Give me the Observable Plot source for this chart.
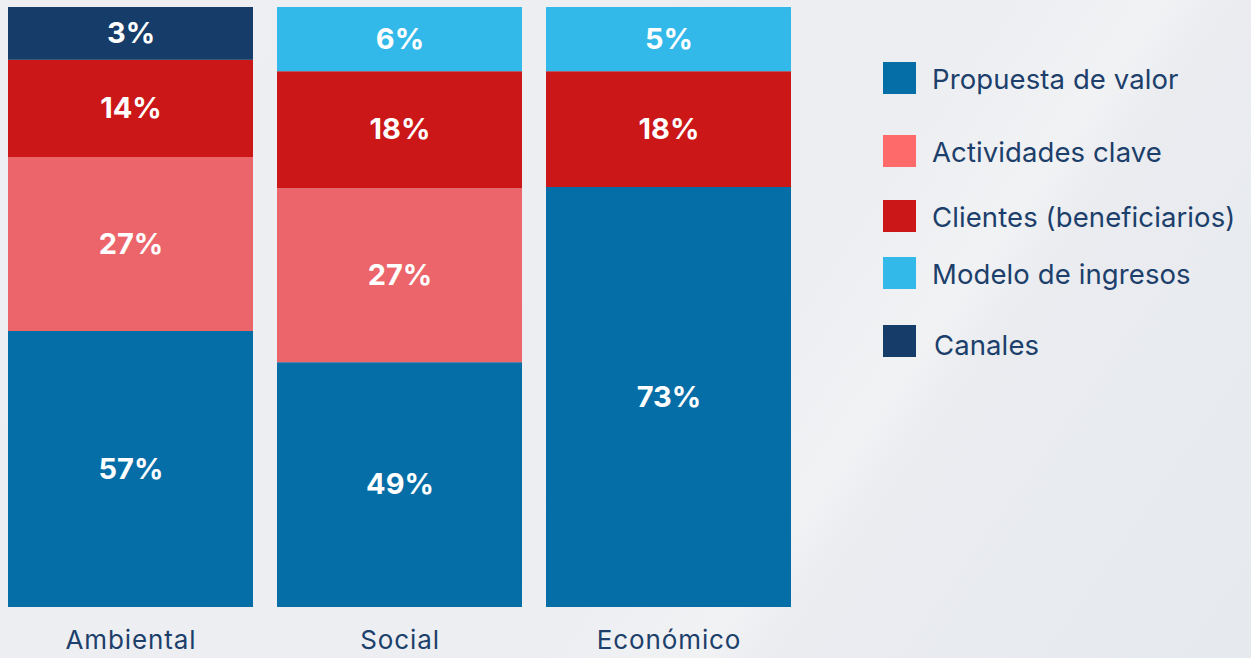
<!DOCTYPE html>
<html>
<head>
<meta charset="utf-8">
<script src="https://cdn.jsdelivr.net/npm/d3@7"></script>
<script src="https://cdn.jsdelivr.net/npm/@observablehq/plot@0.6"></script>
<style>
  html, body { margin: 0; padding: 0; }
  body {
    width: 1251px; height: 658px; overflow: hidden; position: relative;
    background: linear-gradient(125deg, #eeeff2 0%, #edeef1 58%, #f1f2f4 68%, #eaecf0 72%, #e6e9ee 100%);
    font-family: Inter, "Open Sans", sans-serif;
  }
  #chart { position: absolute; left: 0; top: 0; }
  #chart svg g[aria-label="x-axis tick label"] text { letter-spacing: 0.9px; }
  #legend { position: absolute; left: 883px; top: 60px; }
  .item { position: absolute; left: 0; display: flex; align-items: center; white-space: nowrap; }
  .sw { width: 33px; height: 32px; }
  .lab { margin-left: 16px; margin-top: 2px; font-size: 27.5px; color: #1c3f6b; letter-spacing: 0.1px; }
</style>
</head>
<body>
<div id="chart"></div>
<div id="legend"></div>
<script>
// Categories (bars) and series (segments, bottom to top)
const categories = ["Ambiental", "Social", "Económico"];
const series = ["Propuesta de valor", "Actividades clave", "Clientes (beneficiarios)", "Modelo de ingresos", "Canales"];
const barColors = ["#066ea7", "#ec656a", "#cc1719", "#32b9ea", "#163c69"];
const legendColors = ["#066ea7", "#fe6a6a", "#cc1719", "#32b9ea", "#163c69"];

// Printed labels (percent), per series, in category order
const labelPropuesta   = [57, 49, 73];
const labelActividades = [27, 27, null];
const labelClientes    = [14, 18, 18];
const labelModelo      = [null, 6, 5];
const labelCanales     = [3, null, null];

// Segment heights as drawn in the picture (share of the bar, %)
const shownPropuesta   = [46.0, 40.8, 70.0];
const shownActividades = [29.0, 29.0, 0];
const shownClientes    = [16.2, 19.5, 19.3];
const shownModelo      = [0, 10.7, 10.7];
const shownCanales     = [8.8, 0, 0];

const labelsBySeries = [labelPropuesta, labelActividades, labelClientes, labelModelo, labelCanales];
const shownBySeries = [shownPropuesta, shownActividades, shownClientes, shownModelo, shownCanales];

const rows = [];
categories.forEach((c, ci) => {
  series.forEach((s, si) => {
    const share = shownBySeries[si][ci];
    if (share > 0) rows.push({cat: c, series: s, share, label: labelsBySeries[si][ci]});
  });
});

const plot = Plot.plot({
  width: 1251,
  height: 658,
  marginTop: 7,
  marginBottom: 51,
  marginLeft: 8,
  marginRight: 460,
  style: {background: "transparent", fontFamily: "Inter, 'Open Sans', sans-serif"},
  x: {domain: categories, paddingInner: 24 / 269, paddingOuter: 0, label: null},
  y: {domain: [0, 100], axis: null},
  color: {domain: series, range: barColors},
  marks: [
    Plot.barY(rows, Plot.stackY({x: "cat", y: "share", fill: "series", inset: 0})),
    Plot.text(rows, Plot.stackY({
      x: "cat", y: "share", text: d => d.label + "%",
      fill: "white", fontSize: 29, fontWeight: 700
    })),
    Plot.axisX({tickSize: 0, tickPadding: 23, fontSize: 26, fill: "#1c3f6b", label: null})
  ]
});
document.getElementById("chart").appendChild(plot);

// Legend (HTML, built from the same series/colour arrays)
const legendTops = [0, 73, 138, 195, 260];
const legend = document.getElementById("legend");
series.forEach((s, i) => {
  const item = document.createElement("div");
  item.className = "item";
  item.style.top = legendTops[i] + "px";
  const sw = document.createElement("div");
  sw.className = "sw";
  sw.style.background = legendColors[i];
  const lab = document.createElement("span");
  lab.className = "lab";
  lab.textContent = s;
  if (i === 4) { lab.style.marginTop = "8px"; lab.style.marginLeft = "18px"; }
  item.appendChild(sw);
  item.appendChild(lab);
  legend.appendChild(item);
});
</script>
</body>
</html>
